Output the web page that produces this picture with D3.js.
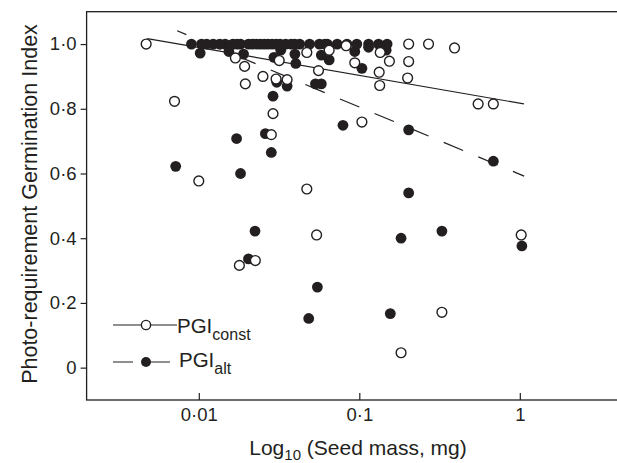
<!DOCTYPE html>
<html>
<head>
<meta charset="utf-8">
<script src="https://cdn.jsdelivr.net/npm/d3@7"></script>
<style>
  body { margin: 0; background: #fff; }
  svg { font-family: "Liberation Sans", Arial, sans-serif; }
  .axis path.domain { display: none; }
  .axis line { stroke: #231f20; stroke-width: 1.2; }
  .axis text { fill: #231f20; font-size: 18.5px; }
</style>
</head>
<body>
<svg id="chart" width="617" height="463"></svg>
<script>
// seed mass (mg) and photo-requirement germination index, constant temperature
const constMass = [0.0047, 0.00706, 0.01, 0.0169, 0.0193, 0.0195, 0.0251, 0.029, 0.0283, 0.0303,
  0.0317, 0.0355, 0.0471, 0.0557, 0.0649, 0.0828, 0.0937, 0.1038, 0.133, 0.134,
  0.135, 0.154, 0.203, 0.203, 0.2, 0.27, 0.392, 0.55, 0.684, 1.02,
  0.327, 0.182, 0.0471, 0.0542, 0.0179, 0.0225];
const constPGI = [1.0, 0.823, 0.577, 0.957, 0.931, 0.877, 0.90, 0.785, 0.72, 0.892,
  0.949, 0.89, 0.974, 0.918, 0.981, 0.995, 0.942, 0.759, 0.913, 0.872,
  0.974, 0.947, 1.0, 0.946, 0.895, 1.0, 0.988, 0.815, 0.815, 0.41,
  0.171, 0.046, 0.552, 0.41, 0.316, 0.331];

// alternating temperature
const altMass = [0.009, 0.0104, 0.0123, 0.0146, 0.0163, 0.0182, 0.0204, 0.0229, 0.0256, 0.0286,
  0.0321, 0.0376, 0.0425, 0.049, 0.0564, 0.0632, 0.0728, 0.0838, 0.0965, 0.1142,
  0.1317, 0.149, 0.0396, 0.0610, 0.0102, 0.0154, 0.019, 0.0294, 0.0324, 0.0397,
  0.0402, 0.058, 0.0649, 0.0937, 0.1038, 0.1142, 0.147, 0.00718, 0.0172, 0.0182,
  0.0224, 0.0204, 0.026, 0.0283, 0.029, 0.0306, 0.0355, 0.0533, 0.058, 0.0791,
  0.203, 0.203, 0.182, 0.327, 0.156, 0.0484, 0.0548, 0.684, 1.03,
  0.0112, 0.0135, 0.0173, 0.0216, 0.0242, 0.0270, 0.0303, 0.0348];
const altPGI = [1.0, 1.0, 1.0, 1.0, 1.0, 1.0, 1.0, 1.0, 1.0, 1.0,
  1.0, 1.0, 1.0, 1.0, 1.0, 1.0, 1.0, 1.0, 1.0, 1.0,
  1.0, 1.0, 1.0, 1.0, 0.972, 0.977, 0.969, 0.959, 0.981, 0.969,
  0.94, 0.966, 0.951, 0.977, 0.925, 0.99, 0.981, 0.622, 0.708, 0.600,
  0.422, 0.336, 0.723, 0.665, 0.839, 0.882, 0.870, 0.877, 0.877, 0.749,
  0.735, 0.540, 0.40, 0.422, 0.167, 0.152, 0.249, 0.638, 0.376,
  1.0, 1.0, 1.0, 1.0, 1.0, 1.0, 1.0, 1.0];

// fitted regression lines (end points)
const constFit = [[0.00478, 1.017], [1.06, 0.815]];
const altFit = [[0.00733, 1.041], [1.064, 0.592]];

const yTicks = [0, 0.2, 0.4, 0.6, 0.8, 1.0];
const xTicks = [0.01, 0.1, 1];
const xTickLabels = ['0·01', '0·1', '1'];

const svg = d3.select('#chart'),
  margin = { top: 11.7, right: -4.5, bottom: 63, left: 86.6 };
const inner = {
  width: 617 - margin.left - margin.right,
  height: 463 - margin.top - margin.bottom
};
const ink = '#231f20';

const g = svg.append('g')
  .attr('transform', `translate(${margin.left},${margin.top})`);

const x = d3.scaleLog().domain([0.002, 4.3]).range([0, inner.width]);
const y = d3.scaleLinear().domain([-0.1, 1.1]).range([inner.height, 0]);

// frame (right side runs off the picture)
g.append('rect')
  .attr('width', inner.width + 20)
  .attr('height', inner.height)
  .attr('fill', 'none')
  .attr('stroke', ink)
  .attr('stroke-width', 1.3);

g.append('g')
  .attr('class', 'axis axis--x')
  .attr('transform', 'translate(0,' + inner.height + ')')
  .call(d3.axisBottom(x)
    .tickValues(xTicks)
    .tickSizeInner(-7)
    .tickSizeOuter(0)
    .tickPadding(8)
    .tickFormat((d, i) => xTickLabels[i]));

g.append('g')
  .attr('class', 'axis axis--y')
  .call(d3.axisLeft(y)
    .tickValues(yTicks)
    .tickSize(6)
    .tickPadding(4)
    .tickFormat(d => d === 0 ? '0' : d.toFixed(1).replace('.', '·')));

const line = d3.line()
  .x(d => x(d[0]))
  .y(d => y(d[1]));

g.append('path')
  .attr('d', line(constFit))
  .attr('fill', 'none')
  .attr('stroke', ink)
  .attr('stroke-width', 1.2);

g.append('path')
  .attr('d', line(altFit))
  .attr('fill', 'none')
  .attr('stroke', ink)
  .attr('stroke-width', 1.2)
  .attr('stroke-dasharray', '21,16.5')
  .attr('stroke-dashoffset', 11);

const altData = altMass.map((m, i) => ({ mass: m, pgi: altPGI[i] }));
const constData = constMass.map((m, i) => ({ mass: m, pgi: constPGI[i] }));

g.selectAll('circle.alt')
  .data(altData)
  .enter()
  .append('circle')
  .attr('class', 'alt')
  .attr('r', 5.4)
  .attr('cx', d => x(d.mass))
  .attr('cy', d => y(d.pgi))
  .style('fill', ink);

g.selectAll('circle.const')
  .data(constData)
  .enter()
  .append('circle')
  .attr('class', 'const')
  .attr('r', 4.9)
  .attr('cx', d => x(d.mass))
  .attr('cy', d => y(d.pgi))
  .style('fill', '#fff')
  .style('stroke', ink)
  .style('stroke-width', 1.4);

// legend
const legend = svg.append('g').attr('class', 'legend');

legend.append('line')
  .attr('x1', 113).attr('x2', 177).attr('y1', 325).attr('y2', 325)
  .attr('stroke', ink).attr('stroke-width', 1.2);
legend.append('circle')
  .attr('cx', 146).attr('cy', 325).attr('r', 4.6)
  .style('fill', '#fff').style('stroke', ink).style('stroke-width', 1.4);
const t1 = legend.append('text')
  .attr('x', 177).attr('y', 333)
  .attr('fill', ink)
  .style('font-size', '20.5px');
t1.append('tspan').text('PGI');
t1.append('tspan').attr('dy', 7).style('font-size', '16px').text('const');

legend.append('line')
  .attr('x1', 113).attr('x2', 171).attr('y1', 362).attr('y2', 362)
  .attr('stroke', ink).attr('stroke-width', 1.2)
  .attr('stroke-dasharray', '20,17');
legend.append('circle')
  .attr('cx', 146).attr('cy', 362).attr('r', 5)
  .style('fill', ink);
const t2 = legend.append('text')
  .attr('x', 179).attr('y', 367)
  .attr('fill', ink)
  .style('font-size', '20.5px');
t2.append('tspan').text('PGI');
t2.append('tspan').attr('dy', 6.5).style('font-size', '16px').text('alt');

// axis titles
const xt = svg.append('text')
  .attr('x', 358).attr('y', 455)
  .attr('text-anchor', 'middle')
  .attr('fill', ink)
  .style('font-size', '21px');
xt.append('tspan').text('Log');
xt.append('tspan').attr('dy', 5).style('font-size', '15px').text('10');
xt.append('tspan').attr('dy', -5).text(' (Seed mass, mg)');

svg.append('text')
  .attr('transform', 'translate(37,204) rotate(-90)')
  .attr('text-anchor', 'middle')
  .attr('fill', ink)
  .style('font-size', '21.5px')
  .text('Photo-requirement Germination Index');
</script>
</body>
</html>
